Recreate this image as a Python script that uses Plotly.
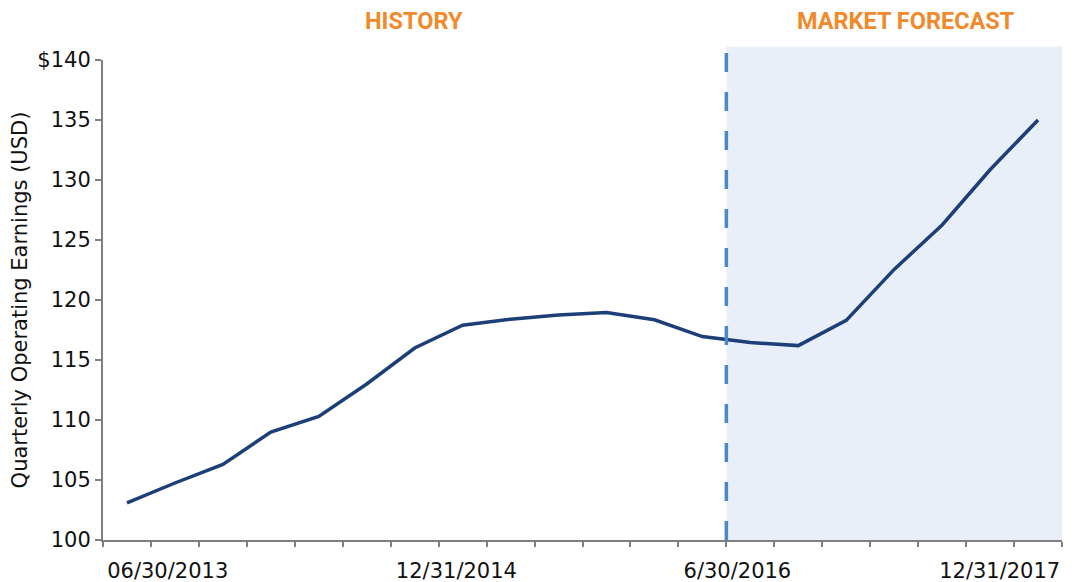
import plotly.graph_objects as go

# ---- data ----
quarters = ["3/31/2013", "6/30/2013", "9/30/2013", "12/31/2013",
            "3/31/2014", "6/30/2014", "9/30/2014", "12/31/2014",
            "3/31/2015", "6/30/2015", "9/30/2015", "12/31/2015",
            "3/31/2016", "6/30/2016", "9/30/2016", "12/31/2016",
            "3/31/2017", "6/30/2017", "9/30/2017", "12/31/2017"]
earnings = [103.1, 104.75, 106.3, 109.0, 110.3, 113.0, 116.0, 117.9,
            118.4, 118.75, 118.95, 118.35, 116.95, 116.45, 116.2, 118.3,
            122.55, 126.25, 130.85, 135.0]
x_label_idx = [1, 7, 13, 19]
x_label_text = ["06/30/2013", "12/31/2014", "6/30/2016", "12/31/2017"]
y_ticks = [100, 105, 110, 115, 120, 125, 130, 135, 140]
y_tick_text = ["100", "105", "110", "115", "120", "125", "130", "135", "$140"]
forecast_start = 13  # index of first forecast quarter

# ---- styles ----
LINE = "#1C3F77"
DASH = "#4A89C4"
SHADE = "#E8EFF8"
ORANGE = "#F08A2A"
AXIS = "#7F7F7F"
FONT = "DejaVu Sans"

x_idx = list(range(len(quarters)))
n = len(quarters)

fig = go.Figure()
fig.add_trace(go.Scatter(
    x=x_idx, y=earnings, mode="lines",
    line=dict(color=LINE, width=3.5),
    customdata=quarters,
    hovertemplate="%{customdata}: %{y}<extra></extra>",
    showlegend=False,
))

# forecast shading and divider
fig.add_shape(type="rect", xref="x", yref="paper",
              x0=forecast_start - 0.5, x1=n - 0.5, y0=0, y1=1.028,
              fillcolor=SHADE, line=dict(width=0), layer="below")
fig.add_shape(type="line", xref="x", yref="paper",
              x0=forecast_start - 0.5, x1=forecast_start - 0.5, y0=0, y1=1.028,
              line=dict(color=DASH, width=3.5, dash="19px,20px"), layer="above")

# label offsets (layout only) so the last label stays inside the figure
label_offsets = [0.15, 0.13, 0.27, 0.8]
tickvals = [i - o for i, o in zip(x_label_idx, label_offsets)]

fig.update_xaxes(
    range=[-0.5, n - 0.5], automargin=False,
    showline=True, linecolor=AXIS, linewidth=2,
    showgrid=False, zeroline=False,
    tickmode="array", tickvals=tickvals, ticktext=x_label_text,
    ticks="", ticklabelstandoff=11,
    tickfont=dict(family=FONT, size=21, color="#111111"),
    minor=dict(tickmode="array", tickvals=[i - 0.5 for i in range(n + 1)],
               ticks="outside", ticklen=5, tickwidth=2, tickcolor=AXIS,
               showgrid=False),
)
fig.update_yaxes(
    range=[100, 140], automargin=False,
    showline=True, linecolor=AXIS, linewidth=2,
    showgrid=False, zeroline=False,
    tickmode="array", tickvals=y_ticks, ticktext=y_tick_text,
    ticks="outside", ticklen=6, tickwidth=2, tickcolor=AXIS,
    tickfont=dict(family=FONT, size=21, color="#111111"),
    title=dict(text="Quarterly Operating Earnings (USD)",
               font=dict(family=FONT, size=21, color="#111111"), standoff=8),
)

fig.add_annotation(text="<b>HISTORY</b>", xref="paper", yref="paper",
                   x=(413.7 - 103) / 959, y=1 + (60 - 20.5) / 480,
                   showarrow=False, xanchor="center", yanchor="middle",
                   font=dict(family="Roboto", size=23.5, color=ORANGE))
fig.add_annotation(text="<b>MARKET FORECAST</b>", xref="paper", yref="paper",
                   x=(906 - 103) / 959, y=1 + (60 - 20.5) / 480,
                   showarrow=False, xanchor="center", yanchor="middle",
                   font=dict(family="Roboto", size=23.5, color=ORANGE))

# page body has an 8px margin, so the figure is sized to fit the window
fig.update_layout(
    width=1070, height=574,
    margin=dict(l=95, r=16, t=52, b=42),
    plot_bgcolor="white", paper_bgcolor="white",
    font=dict(family=FONT),
)

fig.write_html("out.html")
